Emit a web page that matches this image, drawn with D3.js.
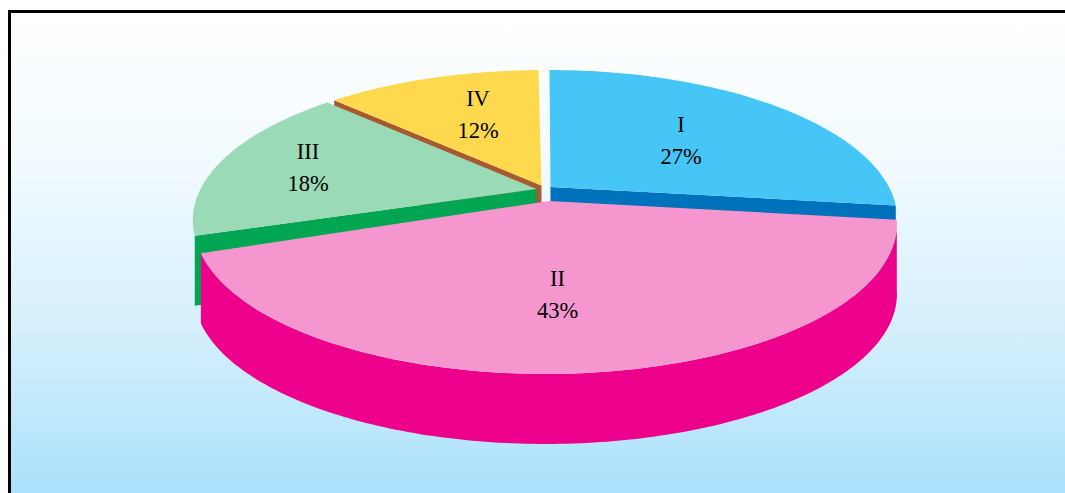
<!DOCTYPE html>
<html>
<head>
<meta charset="utf-8">
<script src="https://cdn.jsdelivr.net/npm/d3@7"></script>
<style>
html,body{margin:0;padding:0;background:#fff;overflow:hidden}
svg{display:block}
text{font-family:"Liberation Serif",serif;font-size:22.5px;fill:#000;text-anchor:middle;dominant-baseline:central}
</style>
</head>
<body>
<svg id="chart" width="1065" height="493"></svg>
<script>
// Data
const categories = ["I", "II", "III", "IV"];
const percentLabels = [27, 43, 18, 12];          // printed on the chart
const sliceShares = [27, 42.5, 17, 12.4];        // sweep of each slice

// Styles
const topColors  = ["#45C6F6", "#F696CF", "#9BDAB6", "#FFD94D"];
const wallColors = ["#0072BC", "#EC008C", "#00A651", "#A65A2E"];

// Layout of each exploded slice: apex on screen, rim centre and radii, perspective, turn in degrees
const sliceLayout = [
  {ax: 550.5, ay: 187,   ox: 549.5, oy: 187,   A: 339.4, B: 142.7, k: 0.22,  turn: 0, wall: "end"},
  {ax: 549,   ay: 201,   ox: 545.5, oy: 201,   A: 347.3, B: 146.5, k: 0.153, turn: 0, wall: "outer"},
  {ax: 536.5, ay: 189,   ox: 548.5, oy: 189,   A: 348,   B: 143.6, k: 0.207, turn: 2, wall: "start"},
  {ax: 541.5, ay: 185.5, ox: 544,   oy: 185.5, A: 339.6, B: 142,   k: 0.23,  turn: 2.8, wall: "start"}
];
const labelLayout = [
  {x: 681, y: 124}, {x: 557.5, y: 278}, {x: 308, y: 151}, {x: 478, y: 98}
];
const thickness = 70, lineGap = 32;
const drawOrder = [0, 3, 2, 1];

const svg = d3.select("#chart");
const defs = svg.append("defs");
const grad = defs.append("linearGradient").attr("id", "bg")
  .attr("x1", 0).attr("x2", 0).attr("y1", 0).attr("y2", 1);
[[0, "#FFFFFF"], [0.33, "#F0FAFF"], [0.64, "#D5EFFC"], [1, "#A6E0FB"]].forEach(s =>
  grad.append("stop").attr("offset", s[0]).attr("stop-color", s[1]));

// Frame and panel
svg.append("rect").attr("x", 9.5).attr("y", 11.5).attr("width", 1070).attr("height", 500)
  .attr("fill", "url(#bg)").attr("stroke", "#000").attr("stroke-width", 3);

const arcs = d3.pie().sort(null).value(d => d)
  .endAngle(2 * Math.PI * d3.sum(sliceShares) / 100)(sliceShares);

function project(layout, angle) {
  const X = Math.sin(angle), Y = -Math.cos(angle), w = 1 - layout.k * Y;
  return [layout.ox + layout.A * X / w, layout.oy + layout.B * Y / w];
}
const line = d3.line();

function rim(arc, layout) {
  const turn = layout.turn * Math.PI / 180;
  const n = Math.max(8, Math.ceil((arc.endAngle - arc.startAngle) * 60));
  const t = d3.scaleLinear().domain([0, n]).range([arc.startAngle + turn, arc.endAngle + turn]);
  return d3.range(n + 1).map(i => project(layout, t(i)));
}

const g = svg.append("g");
drawOrder.forEach(i => {
  const arc = arcs[i], layout = sliceLayout[i], pts = rim(arc, layout);
  const apex = [layout.ax, layout.ay];
  const down = p => [p[0], p[1] + thickness];
  const slice = g.append("g").attr("class", "slice");
  if (layout.wall === "outer") {
    slice.append("path").attr("fill", wallColors[i])
      .attr("d", line(pts.concat(pts.slice().reverse().map(down))) + "Z");
  } else {
    const edge = layout.wall === "start" ? pts[0] : pts[pts.length - 1];
    slice.append("path").attr("fill", wallColors[i])
      .attr("d", line([apex, edge, down(edge), down(apex)]) + "Z");
  }
  slice.append("path").attr("fill", topColors[i])
    .attr("d", line([apex].concat(pts)) + "Z");
});

// Labels
categories.forEach((c, i) => {
  const p = labelLayout[i];
  svg.append("text").attr("x", p.x).attr("y", p.y).text(c);
  svg.append("text").attr("x", p.x).attr("y", p.y + lineGap).text(percentLabels[i] + "%");
});
</script>
</body>
</html>
